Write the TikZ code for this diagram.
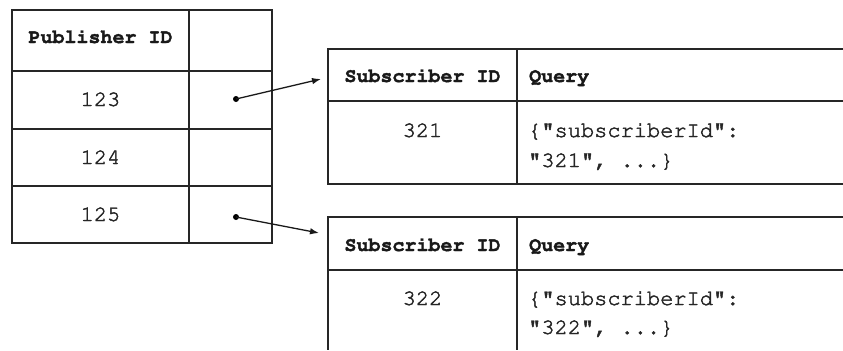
\documentclass[tikz,border=0pt]{standalone}
\usepackage[T1]{fontenc}
\usetikzlibrary{arrows.meta}
\newcommand\courierface{\fontencoding{T1}\fontfamily{pcr}\selectfont}
% thin Courier strokes get a light outline so they read darker
\newcommand\heavier[1]{\special{pdf:literal direct 2 Tr 0.45 w}#1\special{pdf:literal direct 0 Tr}}
\newcommand\heavierbold[1]{\special{pdf:literal direct 2 Tr 0.35 w}#1\special{pdf:literal direct 0 Tr}}
\begin{document}
\begin{tikzpicture}[x=1bp,y=-1bp,
  grid/.style={line width=1.3bp, draw=black!85},
  head/.style={font=\courierface\bfseries\fontsize{20bp}{24bp}\selectfont, text=black!90, inner sep=0pt, anchor=base},
  cell/.style={font=\courierface\fontsize{22bp}{28bp}\selectfont, text=black!85, inner sep=0pt, anchor=base},
  dot/.style={circle, fill=black, inner sep=0pt, minimum size=6bp},
  link/.style={line width=1.3bp, draw=black!90, -{Latex[length=9bp,width=6.5bp]}}]
\useasboundingbox (0,0) rectangle (843,350);

% publisher table
\draw[grid] (12,10) rectangle (272,243);
\draw[grid] (189,10) -- (189,243);
\foreach \y in {71,129,186} \draw[grid] (12,\y) -- (272,\y);
\node[head] (pubhead) at (100.5,43) {\heavierbold{Publisher ID}};
\node[cell] (p123) at (100.5,106) {\heavier{123}};
\node[cell] (p124) at (100.5,164) {\heavier{124}};
\node[cell] (p125) at (100.5,221) {\heavier{125}};
\node[dot] (d123) at (236,99) {};
\node[dot] (d125) at (236,217) {};

% first subscriber table (runs past the right edge)
\draw[grid] (843,49) -- (328,49) -- (328,184) -- (843,184);
\draw[grid] (328,101) -- (843,101);
\draw[grid] (517,49) -- (517,184);
\node[head] (subhead1) at (422.5,82) {\heavierbold{Subscriber ID}};
\node[head, anchor=base west] (qhead1) at (529,82) {\heavierbold{Query}};
\node[cell] (s321) at (422.5,137) {\heavier{321}};
\node[cell, anchor=base west] (q321a) at (528,137) {\heavier{\{"subscriberId":}};
\node[cell, anchor=base west] (q321b) at (528,167) {\heavier{"321", ...\}}};
\coordinate (in1) at (321,79);

% second subscriber table (runs past the right and bottom edges)
\draw[grid] (843,217) -- (328,217) -- (328,350);
\draw[grid] (328,270) -- (843,270);
\draw[grid] (517,217) -- (517,350);
\node[head] (subhead2) at (422.5,251) {\heavierbold{Subscriber ID}};
\node[head, anchor=base west] (qhead2) at (529,251) {\heavierbold{Query}};
\node[cell] (s322) at (422.5,305) {\heavier{322}};
\node[cell, anchor=base west] (q322a) at (528,305) {\heavier{\{"subscriberId":}};
\node[cell, anchor=base west] (q322b) at (528,334) {\heavier{"322", ...\}}};
\coordinate (in2) at (319,233);

% pointers from publisher rows to their subscriber tables
\draw[link] (d123.center) -- (in1);
\draw[link] (d125.center) -- (in2);
\end{tikzpicture}
\end{document}
